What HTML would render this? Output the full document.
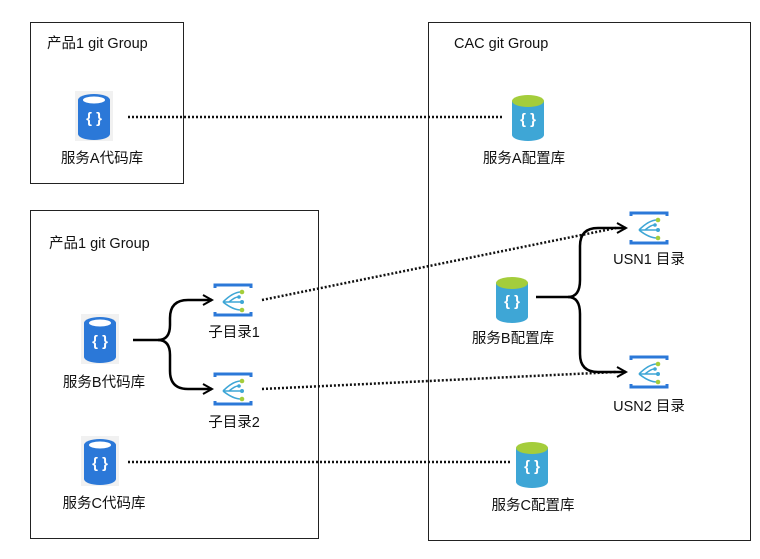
<!DOCTYPE html>
<html><head><meta charset="utf-8"><style>
body{margin:0;background:#fff;}
svg text{font-family:"Liberation Sans","Noto Sans CJK SC",sans-serif;font-size:14.5px;fill:#111;}
</style></head><body>
<svg width="760" height="554" viewBox="0 0 760 554" xmlns="http://www.w3.org/2000/svg">
<defs>
<g id="code">
  <rect x="-19" y="-26" width="38" height="50" fill="#f1f1f1"/>
  <path d="M-16,-17 v34 a16,6 0 0 0 32,0 v-34 z" fill="#2b78d8"/>
  <ellipse cx="0" cy="-17" rx="16" ry="6" fill="#2b78d8"/>
  <ellipse cx="0" cy="-17" rx="11" ry="3.5" fill="#fff"/>
  <text x="0" y="6" text-anchor="middle" style="font-size:15px;font-weight:bold;fill:#fff">{ }</text>
</g>
<g id="cfg">
  <path d="M-16,-17 v34 a16,6 0 0 0 32,0 v-34 z" fill="#3ea6d6"/>
  <ellipse cx="0" cy="-17" rx="16" ry="6" fill="#a4cd3b"/>
  <text x="0" y="6" text-anchor="middle" style="font-size:15px;font-weight:bold;fill:#fff">{ }</text>
</g>
<g id="dir">
  <path d="M-18,-12 v-3 h36 v3" fill="none" stroke="#2b78d8" stroke-width="3"/>
  <path d="M-18,12 v3 h36 v-3" fill="none" stroke="#2b78d8" stroke-width="3"/>
  <path d="M-10,2 L8,2 M-10,2 Q0,-8 8,-8 M-10,2 Q0,10 8,10 M-4,2 Q2,-3 5,-3" fill="none" stroke="#3ea6d6" stroke-width="1.6"/>
  <circle cx="9" cy="-8" r="2.3" fill="#a4cd3b"/><circle cx="9" cy="10" r="2.3" fill="#a4cd3b"/>
  <circle cx="9" cy="2" r="2" fill="#3ea6d6"/><circle cx="6" cy="-3" r="1.8" fill="#3ea6d6"/>
</g>
<marker id="ar" markerWidth="12" markerHeight="12" refX="10" refY="6" orient="auto" markerUnits="userSpaceOnUse">
  <path d="M1,1 L10,6 L1,11" fill="none" stroke="#000" stroke-width="2"/>
</marker>
</defs>
<rect x="30.5" y="22.5" width="153" height="161" fill="none" stroke="#222"/>
<rect x="30.5" y="210.5" width="288" height="328" fill="none" stroke="#222"/>
<rect x="428.5" y="22.5" width="322" height="518" fill="none" stroke="#222"/>
<text x="47" y="48">产品1 git Group</text>
<text x="49" y="248">产品1 git Group</text>
<text x="454" y="48">CAC git Group</text>

<g stroke="#111" stroke-width="2.5" stroke-dasharray="2,2" fill="none">
<line x1="128" y1="117" x2="502" y2="117"/>
<line x1="128" y1="462" x2="512" y2="462"/>
<line x1="262" y1="300" x2="616" y2="228"/>
<line x1="262" y1="389" x2="616" y2="372"/>
</g>
<g stroke="#000" stroke-width="2.5" fill="none">
<path d="M133,340 H158 Q170,340 170,325 V318 Q170,300 188,300 H212" marker-end="url(#ar)"/>
<path d="M158,340 Q170,340 170,355 V371 Q170,389 188,389 H212" marker-end="url(#ar)"/>
<path d="M536,297 H568 Q580,297 580,280 V246 Q580,228 598,228 H626" marker-end="url(#ar)"/>
<path d="M568,297 Q580,297 580,314 V354 Q580,372 598,372 H626" marker-end="url(#ar)"/>
</g>

<use href="#code" x="94" y="117"/>
<text x="102" y="163" text-anchor="middle">服务A代码库</text>
<use href="#code" x="100" y="340"/>
<text x="104" y="387" text-anchor="middle">服务B代码库</text>
<use href="#code" x="100" y="462"/>
<text x="104" y="508" text-anchor="middle">服务C代码库</text>
<use href="#cfg" x="528" y="118"/>
<text x="524" y="163" text-anchor="middle">服务A配置库</text>
<use href="#cfg" x="512" y="300"/>
<text x="513" y="343" text-anchor="middle">服务B配置库</text>
<use href="#cfg" x="532" y="465"/>
<text x="533" y="510" text-anchor="middle">服务C配置库</text>
<use href="#dir" x="233" y="300"/>
<text x="234" y="337" text-anchor="middle">子目录1</text>
<use href="#dir" x="233" y="389"/>
<text x="234" y="427" text-anchor="middle">子目录2</text>
<use href="#dir" x="649" y="228"/>
<text x="649" y="264" text-anchor="middle">USN1 目录</text>
<use href="#dir" x="649" y="372"/>
<text x="649" y="411" text-anchor="middle">USN2 目录</text>
</svg>
</body></html>
